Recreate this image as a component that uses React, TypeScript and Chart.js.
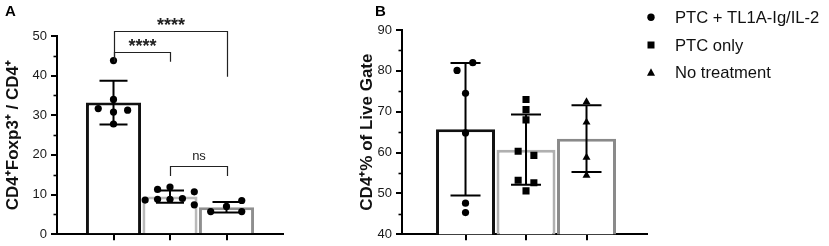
import React, { useEffect, useRef } from "react";
import { Chart, registerables } from "chart.js";

Chart.register(...registerables);

const FONT = "'Liberation Sans', Arial, Helvetica, sans-serif";

// ---------------- Panel A data ----------------
const categoriesA = [1, 2, 3];
const meansA = [33.2, 9.5, 6.8];
const sdA = [5.5, 1.55, 1.35];
const barColorsA = ["#111111", "#bababa", "#8f8f8f"];
const valuesA1 = [43.8, 34.0, 31.7, 30.8, 31.3, 27.8];
const jitterA1 = [0, 0, -0.27, 0, 0.25, 0];
const valuesA2 = [8.6, 11.3, 8.8, 11.9, 8.8, 9.0, 10.7, 7.4];
const jitterA2 = [-0.44, -0.22, -0.22, 0, 0, 0.22, 0.43, 0.43];
const valuesA3 = [5.7, 7.0, 8.5, 5.7];
const jitterA3 = [-0.28, 0, 0.27, 0.27];
const yTicksA = [0, 10, 20, 30, 40, 50];
const yTitleA = "CD4\u207AFoxp3\u207A / CD4\u207A";

// significance brackets (panel A)
const bracketX1 = [1, 1, 2];
const bracketX2 = [3, 2, 3];
const bracketTop = [51.2, 46.0, 17.2];
const bracketLeg1 = [43.5, 43.5, 14.7];
const bracketLeg2 = [39.7, 43.5, 14.7];
const bracketLabels = ["****", "****", "ns"];
const bracketLabelY = [54.0, 48.8, 19.7];

// ---------------- Panel B data ----------------
const categoriesB = [1, 2, 3];
const seriesB = ["PTC + TL1A-Ig/IL-2", "PTC only", "No treatment"];
const markersB = ["circle", "rect", "triangle"];
const meansB = [65.7, 60.7, 63.4];
const sdB = [16.2, 8.6, 8.2];
const barColorsB = ["#111111", "#b0b0b0", "#8a8a8a"];
const valuesB1 = [80.1, 82.0, 74.5, 64.8, 47.6, 45.3];
const jitterB1 = [-0.14, 0.12, 0, 0, 0, 0];
const valuesB2 = [73.0, 70.5, 68.0, 60.3, 59.3, 53.2, 52.6, 50.6];
const jitterB2 = [0, 0, 0, -0.13, 0.13, -0.13, 0.13, 0];
const valuesB3 = [72.4, 67.4, 58.8, 54.4];
const jitterB3 = [0, 0, 0, 0];
const yTicksB = [40, 50, 60, 70, 80, 90];
const yTitleB = "CD4\u207A% of Live Gate";

// ---------------- plugins ----------------
function errorBarPlugin(means: number[], sds: number[], cap: number) {
  return {
    id: "errorBars",
    afterDatasetDraw(chart: any, args: any) {
      const ds = chart.data.datasets[args.index];
      if (ds.type !== "bar") return;
      const ys = chart.scales.y;
      const ctx = chart.ctx;
      ctx.save();
      ctx.strokeStyle = "#000";
      ctx.lineWidth = 2;
      args.meta.data.forEach((bar: any, i: number) => {
        const x = bar.x;
        const t = ys.getPixelForValue(means[i] + sds[i]);
        const b = ys.getPixelForValue(means[i] - sds[i]);
        ctx.beginPath();
        ctx.moveTo(x, t);
        ctx.lineTo(x, b);
        ctx.moveTo(x - cap / 2, t);
        ctx.lineTo(x + cap / 2, t);
        ctx.moveTo(x - cap / 2, b);
        ctx.lineTo(x + cap / 2, b);
        ctx.stroke();
      });
      ctx.restore();
    },
  };
}

const minorTickPlugin = {
  id: "minorTicks",
  afterDraw(chart: any) {
    const ys = chart.scales.y;
    const ctx = chart.ctx;
    const ticks = ys.ticks;
    ctx.save();
    ctx.strokeStyle = "#000";
    ctx.lineWidth = 1.6;
    for (let i = 0; i < ticks.length - 1; i++) {
      const v = (ticks[i].value + ticks[i + 1].value) / 2;
      const y = Math.round(ys.getPixelForValue(v)) + 0.5;
      ctx.beginPath();
      ctx.moveTo(ys.right - 3.5, y);
      ctx.lineTo(ys.right, y);
      ctx.stroke();
    }
    ctx.restore();
  },
};

function letterPlugin(letter: string, x: number, y: number) {
  return {
    id: "panelLetter",
    afterDraw(chart: any) {
      const ctx = chart.ctx;
      ctx.save();
      ctx.fillStyle = "#000";
      ctx.font = `bold 15px ${FONT}`;
      ctx.textAlign = "left";
      ctx.textBaseline = "alphabetic";
      ctx.fillText(letter, x, y);
      ctx.restore();
    },
  };
}

const bracketPlugin = {
  id: "brackets",
  afterDraw(chart: any) {
    const xs = chart.scales.x;
    const ys = chart.scales.y;
    const ctx = chart.ctx;
    ctx.save();
    ctx.strokeStyle = "#222";
    ctx.lineWidth = 1.2;
    bracketX1.forEach((x1v, i) => {
      const x1 = Math.round(xs.getPixelForValue(x1v)) + 0.5;
      const x2 = Math.round(xs.getPixelForValue(bracketX2[i])) + 0.5;
      const top = Math.round(ys.getPixelForValue(bracketTop[i])) + 0.5;
      ctx.beginPath();
      ctx.moveTo(x1, ys.getPixelForValue(bracketLeg1[i]));
      ctx.lineTo(x1, top);
      ctx.lineTo(x2, top);
      ctx.lineTo(x2, ys.getPixelForValue(bracketLeg2[i]));
      ctx.stroke();
      const label = bracketLabels[i];
      const cx = (x1 + x2) / 2;
      const cy = ys.getPixelForValue(bracketLabelY[i]);
      ctx.fillStyle = "#222";
      ctx.textAlign = "center";
      ctx.textBaseline = "alphabetic";
      if (label.startsWith("*")) {
        const fs = 18;
        ctx.font = `bold ${fs}px ${FONT}`;
        ctx.fillText(label, cx, cy + 0.6 * fs);
      } else {
        const fs = 13;
        ctx.font = `${fs}px ${FONT}`;
        ctx.fillText(label, cx, cy + 0.27 * fs);
      }
    });
    ctx.restore();
  },
};

function legendPlugin(mx: number, tx: number, rows: number[]) {
  return {
    id: "customLegend",
    afterDraw(chart: any) {
      const ctx = chart.ctx;
      ctx.save();
      const entries = chart.data.datasets.filter((d: any) => d.type === "scatter");
      entries.forEach((d: any, i: number) => {
        const y = rows[i];
        ctx.fillStyle = "#000";
        ctx.beginPath();
        if (d.pointStyle === "circle") {
          ctx.arc(mx, y, 3.7, 0, Math.PI * 2);
        } else if (d.pointStyle === "rect") {
          ctx.rect(mx - 3.5, y - 3.5, 7, 7);
        } else {
          ctx.moveTo(mx, y - 4.2);
          ctx.lineTo(mx + 4, y + 3.2);
          ctx.lineTo(mx - 4, y + 3.2);
          ctx.closePath();
        }
        ctx.fill();
        ctx.fillStyle = "#111";
        ctx.font = `16.6px ${FONT}`;
        ctx.textAlign = "left";
        ctx.textBaseline = "middle";
        ctx.fillText(d.label, tx, y + 1);
      });
      ctx.restore();
    },
  };
}

// ---------------- configs ----------------
function axisX(min: number, max: number, cats: number[]) {
  return {
    type: "linear",
    min,
    max,
    offset: false,
    afterBuildTicks: (s: any) => {
      s.ticks = cats.map((v) => ({ value: v }));
    },
    ticks: { display: false },
    grid: {
      offset: false,
      drawOnChartArea: false,
      drawTicks: true,
      tickLength: 6,
      color: "#000",
      lineWidth: 2,
    },
    border: { color: "#000", width: 2 },
    afterFit: (s: any) => {
      s.height = 11;
    },
  };
}

function axisY(min: number, max: number, ticks: number[], title: string, width: number, titlePad: number) {
  return {
    type: "linear",
    min,
    max,
    beginAtZero: false,
    afterBuildTicks: (s: any) => {
      s.ticks = ticks.map((v) => ({ value: v }));
    },
    ticks: { font: { family: FONT, size: 13 }, color: "#1a1a1a", padding: 4 },
    grid: {
      drawOnChartArea: false,
      drawTicks: true,
      tickLength: 6,
      color: "#000",
      lineWidth: 2,
    },
    border: { color: "#000", width: 2 },
    title: {
      display: true,
      text: title,
      color: "#111",
      font: { family: FONT, size: 17, weight: "bold" },
      padding: { top: titlePad, bottom: 0 },
    },
    afterFit: (s: any) => {
      s.width = width;
    },
  };
}

function points(cats: number[], g: number, vals: number[], jit: number[]) {
  return vals.map((v, i) => ({ x: cats[g] + jit[i], y: v }));
}

function configA(): any {
  const dot = (data: any[]) => ({
    type: "scatter",
    data,
    pointStyle: "circle",
    pointRadius: 3.6,
    backgroundColor: "#000",
    borderWidth: 0,
    order: 1,
  });
  return {
    type: "bar",
    data: {
      datasets: [
        {
          type: "bar",
          data: categoriesA.map((c, i) => ({ x: c, y: meansA[i] })),
          backgroundColor: "#ffffff",
          borderColor: barColorsA,
          borderWidth: 3,
          barPercentage: 0.975,
          categoryPercentage: 1,
          order: 2,
        },
        dot(points(categoriesA, 0, valuesA1, jitterA1)),
        dot(points(categoriesA, 1, valuesA2, jitterA2)),
        dot(points(categoriesA, 2, valuesA3, jitterA3)),
      ],
    },
    options: {
      responsive: false,
      animation: false,
      devicePixelRatio: 1,
      layout: { padding: { top: 36, right: 17, bottom: 0, left: 0 } },
      plugins: { legend: { display: false }, tooltip: { enabled: false } },
      scales: {
        x: axisX(0, 4, categoriesA),
        y: axisY(0, 50, yTicksA, yTitleA, 57, 3.5),
      },
    },
    plugins: [errorBarPlugin(meansA, sdA, 28), minorTickPlugin, bracketPlugin, letterPlugin("A", 5, 16)],
  };
}

function configB(): any {
  const valsB = [valuesB1, valuesB2, valuesB3];
  const jitB = [jitterB1, jitterB2, jitterB3];
  return {
    type: "bar",
    data: {
      datasets: [
        {
          type: "bar",
          data: categoriesB.map((c, i) => ({ x: c, y: meansB[i] })),
          backgroundColor: "#ffffff",
          borderColor: barColorsB,
          borderWidth: 3,
          barPercentage: 0.975,
          categoryPercentage: 1,
          order: 2,
        },
        ...seriesB.map((name, g) => ({
          type: "scatter",
          label: name,
          data: points(categoriesB, g, valsB[g], jitB[g]),
          pointStyle: markersB[g],
          pointRadius: markersB[g] === "rect" ? 5 : markersB[g] === "triangle" ? 4.6 : 3.6,
          backgroundColor: "#000",
          borderWidth: 0,
          order: 1,
        })),
      ],
    },
    options: {
      responsive: false,
      animation: false,
      devicePixelRatio: 1,
      layout: { padding: { top: 30, right: 182, bottom: 0, left: 0 } },
      plugins: { legend: { display: false }, tooltip: { enabled: false } },
      scales: {
        x: axisX(-0.05, 4, categoriesB),
        y: axisY(40, 90, yTicksB, yTitleB, 52, 7.5),
      },
    },
    plugins: [
      errorBarPlugin(meansB, sdB, 30),
      minorTickPlugin,
      letterPlugin("B", 25, 16),
      legendPlugin(301, 325, [17.3, 45, 72.5]),
    ],
  };
}

function ChartCanvas({ make, left, width, height }: { make: () => any; left: number; width: number; height: number }) {
  const ref = useRef<HTMLCanvasElement>(null);
  useEffect(() => {
    const chart = new Chart(ref.current as HTMLCanvasElement, make());
    return () => chart.destroy();
  }, []);
  return (
    <canvas
      ref={ref}
      width={width}
      height={height}
      style={{ position: "absolute", left, top: 0, width, height }}
    />
  );
}

export default function App() {
  return (
    <div
      style={{
        position: "fixed",
        left: 0,
        top: 0,
        width: 829,
        height: 246,
        background: "#ffffff",
        overflow: "hidden",
      }}
    >
      <ChartCanvas make={configA} left={0} width={300} height={246} />
      <ChartCanvas make={configB} left={350} width={479} height={246} />
    </div>
  );
}
